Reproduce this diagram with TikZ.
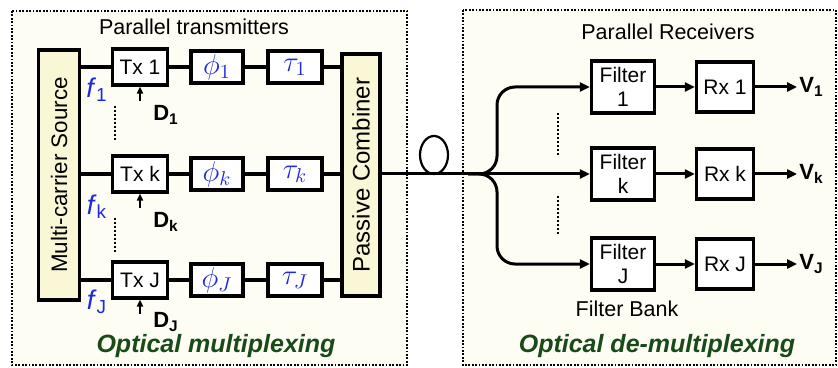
\documentclass[tikz,border=0pt]{standalone}
\usepackage{fontspec}
\setmainfont{Liberation Sans}
\usetikzlibrary{arrows.meta,shapes.geometric}
\definecolor{panel}{RGB}{253,253,244}
\definecolor{blkfill}{RGB}{250,247,214}
\definecolor{symblue}{RGB}{30,40,220}
\definecolor{titlegreen}{RGB}{25,75,25}

\begin{document}
\begin{tikzpicture}[x=0.5pt,y=-0.5pt,
  frame/.style={draw,line width=1.3pt,dash pattern=on 0.9pt off 0.8pt,fill=panel},
  blk/.style n args={2}{draw,line width=1.6pt,fill=white,minimum width=#1*0.5pt,minimum height=#2*0.5pt,inner sep=0pt,font=\fontsize{10.5}{12}\selectfont,align=center},
  tallblk/.style n args={2}{draw,line width=1.6pt,fill=blkfill,minimum width=#1*0.5pt,minimum height=#2*0.5pt,inner sep=0pt},
  lnk/.style={line width=1.6pt},
  arr/.style={line width=1.5pt,-{Triangle[length=5pt,width=4.5pt]}},
  darr/.style={line width=1pt,-{Triangle[length=3.5pt,width=3pt]}},
  vdots/.style={line width=1.3pt,dash pattern=on 1pt off 1pt},
  sym/.style={text=symblue,font=\fontsize{14}{16}\selectfont},
  freq/.style={text=symblue,font=\fontsize{13.5}{15}\selectfont,inner sep=0pt},
  lbl/.style={font=\fontsize{10.75}{12}\selectfont},
  ttl/.style={text=titlegreen,font=\fontsize{12.5}{14}\selectfont\bfseries\itshape},
  sig/.style={font=\fontsize{11}{13}\selectfont\bfseries,inner sep=1pt}]
\useasboundingbox (0,0) rectangle (838,368);

% panels
\draw[frame] (12,11) rectangle (407,365);
\draw[frame] (463,10) rectangle (836,365);
\node[lbl] (ptx) at (194,27) {Parallel transmitters};
\node[lbl] (prx) at (668,32) {Parallel Receivers};
\node[ttl] (mux) at (216,346) {Optical multiplexing};
\node[ttl] (demux) at (657,346) {Optical de-multiplexing};

% source and combiner
\node[tallblk={41}{250}] (src) at (59,175) {};
\node[rotate=90,font=\fontsize{11.2}{13}\selectfont] (srctxt) at (src) {Multi-carrier Source};
\node[tallblk={38}{242}] (comb) at (361,175) {};
\node[rotate=90,font=\fontsize{12}{14}\selectfont] (combtxt) at (comb) {Passive Combiner};

% transmitter rows
\foreach \r/\y/\fy/\dy in {1/67/90/115, k/174/207/222, J/280/302/322} {
  \node[blk={55}{36}] (tx\r) at (140,\y) {Tx \r};
  \node[blk={52}{32},sym] (ph\r) at (217,\y) {$\phi_\r$};
  \node[blk={54}{32},sym] (ta\r) at (295,\y) {$\tau_\r$};
  \node[freq] (f\r) at (97,\fy) {\textit{f}\textsubscript{\r}};
  \node[sig] (d\r) at (166,\dy) {D\textsubscript{\r}};
  \coordinate (din\r) at (140,\y+34);
  \draw[lnk] (src.east |- tx\r) -- (tx\r) -- (ph\r) -- (ta\r) -- (comb.west |- ta\r);
  \draw[darr] (din\r) -- (tx\r.south);
}
\draw[vdots] (115,106) -- (115,140);
\draw[vdots] (115,218) -- (115,254);

% receiver rows
\foreach \r/\y in {1/87, k/174, J/264} {
  \node[blk={63}{52}] (fl\r) at (623,\y) {Filter\\\r};
  \node[blk={57}{50}] (rx\r) at (725,\y) {Rx \r};
  \node[sig,anchor=west] (v\r) at (797,\y) {V\textsubscript{\r}};
  \draw[arr] (fl\r) -- (rx\r);
  \draw[arr] (rx\r) -- (v\r);
}
\draw[vdots] (558,113) -- (558,155);
\draw[vdots] (558,196) -- (558,236);
\node[lbl] (fbank) at (627,309) {Filter Bank};

% fibre, loop and splitter
\node[draw,ellipse,line width=1.1pt,minimum width=28*0.5pt,minimum height=38*0.5pt,inner sep=0pt] (loop) at (434,155) {};
\coordinate (split) at (468,174);
\coordinate (fork) at (497,174);
\draw[arr] (comb.east |- flk) -- (flk);
\draw[arr,rounded corners=9pt] (split) -- (fork) |- (fl1);
\draw[arr,rounded corners=9pt] (split) -- (fork) |- (flJ);
\end{tikzpicture}
\end{document}
